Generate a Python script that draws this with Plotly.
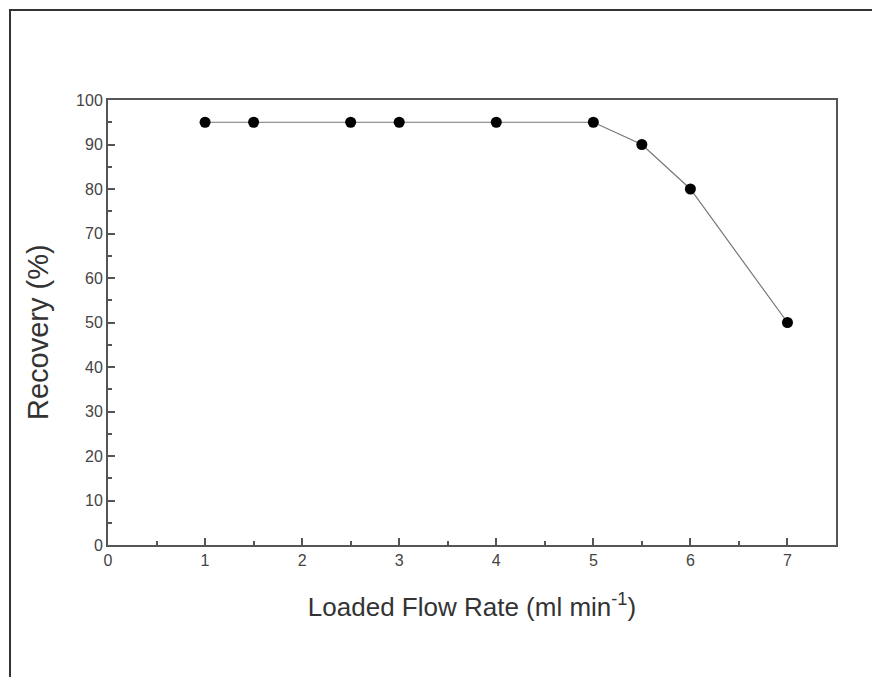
import plotly.graph_objects as go

flow_rate = [1, 1.5, 2.5, 3, 4, 5, 5.5, 6, 7]
recovery = [95, 95, 95, 95, 95, 95, 90, 80, 50]
x_ticks = [0, 1, 2, 3, 4, 5, 6, 7]
x_minor = [0.5, 1.5, 2.5, 3.5, 4.5, 5.5, 6.5]
y_ticks = list(range(0, 101, 10))
y_minor = list(range(5, 100, 10))

W, H = 880, 677
L, R, T, B = 100, 52, 92, 140
pw, ph = W - L - R, H - T - B

fig = go.Figure()
fig.add_trace(go.Scatter(
    x=flow_rate, y=recovery, mode="lines+markers",
    line=dict(color="#777777", width=1.2),
    marker=dict(color="black", size=11, symbol="circle"),
    showlegend=False, cliponaxis=False,
))

fam = "Liberation Sans, Arial, sans-serif"
axcol = "#555555"

fig.update_layout(
    width=W, height=H,
    margin=dict(l=L, r=R, t=T, b=B),
    paper_bgcolor="white", plot_bgcolor="white",
    font=dict(family=fam, color="#333333"),
    xaxis=dict(
        range=[0, 7.5], tickmode="array", tickvals=x_ticks,
        ticks="inside", ticklen=7, tickwidth=1.5, tickcolor=axcol,
        minor=dict(tickvals=x_minor, ticks="inside", ticklen=4, tickwidth=1.5, tickcolor=axcol),
        showline=True, linecolor=axcol, linewidth=2, mirror=True,
        showgrid=False, zeroline=False,
        tickfont=dict(family=fam, size=16, color="#444444"),
        title=dict(text="Loaded Flow Rate (ml min<sup>-1</sup>)", font=dict(family=fam, size=26, color="#333333"), standoff=30),
    ),
    yaxis=dict(
        range=[0, 100], tickmode="array", tickvals=y_ticks,
        ticks="inside", ticklen=7, tickwidth=1.5, tickcolor=axcol,
        minor=dict(tickvals=y_minor, ticks="inside", ticklen=4, tickwidth=1.5, tickcolor=axcol),
        showline=True, linecolor=axcol, linewidth=2, mirror=True,
        showgrid=False, zeroline=False,
        tickfont=dict(family=fam, size=16, color="#444444"),
    ),
    annotations=[dict(
        text="Recovery (%)", textangle=-90, showarrow=False,
        xref="paper", yref="paper", x=(30 - L) / pw, y=(H - B - 324) / ph,
        xanchor="center", yanchor="middle",
        font=dict(family=fam, size=29, color="#333333"),
    )],
)

# outer frame (left and top edges visible; extends off canvas right/bottom)
x0 = (2 - L) / pw
y1 = (H - B - 2) / ph
fig.add_shape(type="rect", xref="paper", yref="paper",
              x0=x0, x1=(W + 30 - L) / pw, y0=-(B + 30) / ph, y1=y1,
              line=dict(color="#333333", width=2), layer="below")

fig.write_html("out.html")
